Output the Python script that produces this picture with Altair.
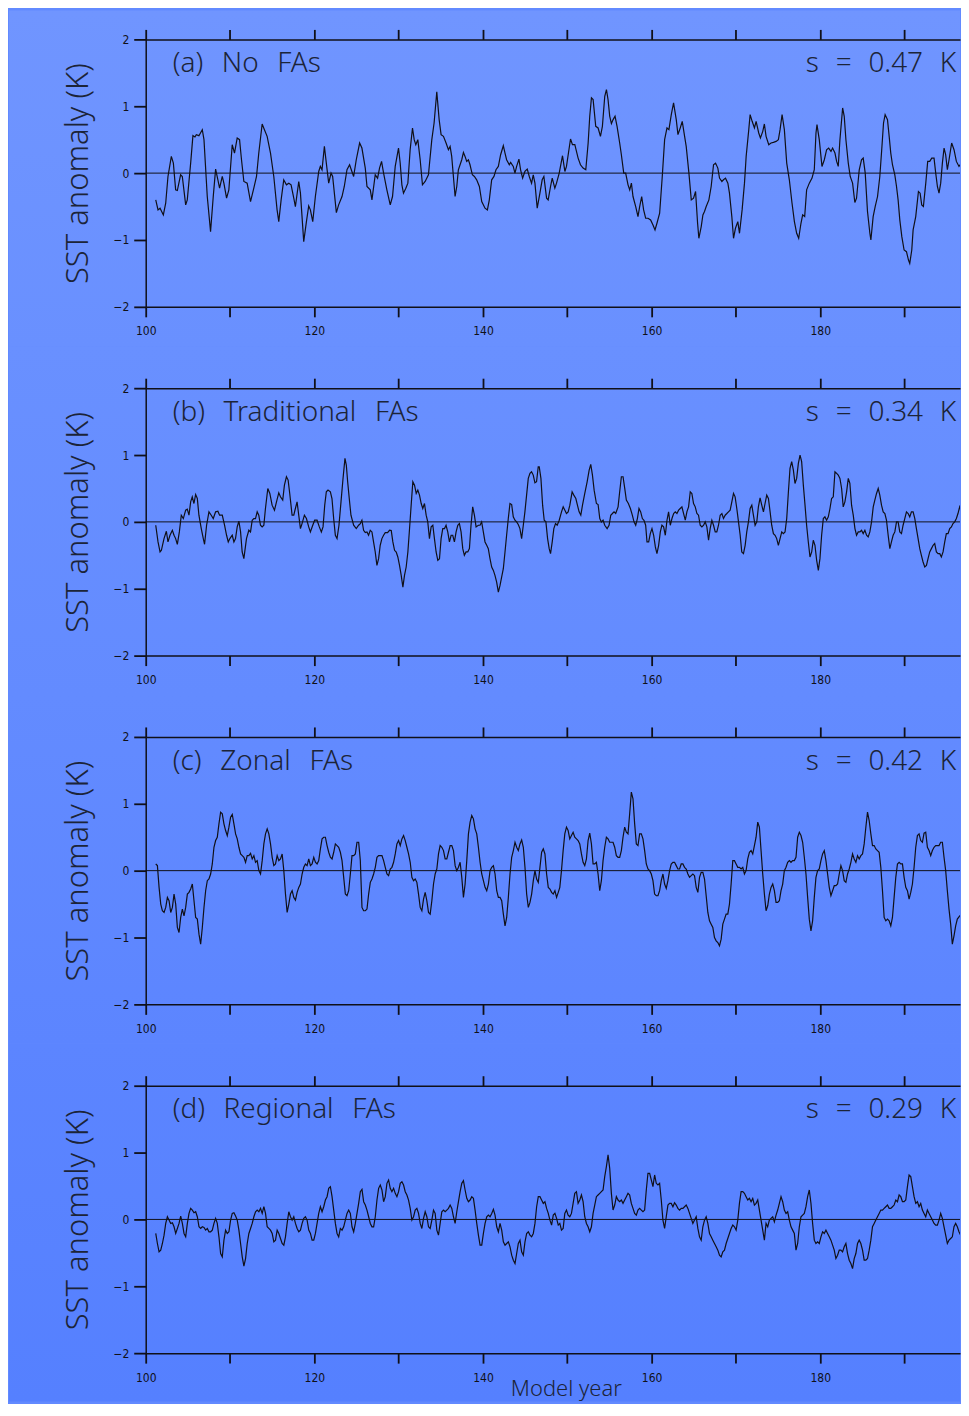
import altair as alt
import pandas as pd

# ---------------- data ----------------
# (year, SST anomaly K) turning points, panel (a) No FAs
A_POINTS = [
    (101.19, -0.40), (101.46, -0.55), (101.70, -0.525), (102.09, -0.625), (102.37, -0.45), (102.64, -0.05),
    (103.04, 0.25), (103.28, 0.15), (103.55, -0.25), (103.75, -0.26), (104.14, -0.025), (104.34, -0.05),
    (104.74, -0.475), (104.93, -0.40), (105.33, 0.15), (105.60, 0.56), (105.84, 0.54), (106.00, 0.575),
    (106.31, 0.56), (106.71, 0.65), (106.91, 0.50), (107.30, -0.35), (107.69, -0.875), (108.01, -0.35),
    (108.29, 0.06), (108.56, -0.10), (108.76, -0.225), (109.08, -0.05), (109.27, -0.15), (109.59, -0.375),
    (109.86, -0.25), (110.26, 0.425), (110.53, 0.30), (110.85, 0.525), (111.13, 0.50), (111.36, 0.20),
    (111.64, -0.125), (112.03, -0.15), (112.43, -0.425), (112.82, -0.225), (113.14, -0.05), (113.41, 0.30),
    (113.81, 0.735), (114.08, 0.65), (114.40, 0.55), (114.80, 0.30), (115.19, -0.05), (115.58, -0.55),
    (115.78, -0.725), (116.06, -0.40), (116.37, -0.10), (116.69, -0.175), (116.97, -0.15), (117.24, -0.175),
    (117.56, -0.375), (117.75, -0.50), (118.15, -0.125), (118.35, -0.30), (118.74, -1.025), (119.06, -0.725),
    (119.33, -0.49), (119.53, -0.55), (119.81, -0.725), (120.12, -0.35), (120.52, 0.025), (120.71, 0.10),
    (120.91, 0.05), (121.19, 0.40), (121.42, 0.15), (121.70, -0.15), (121.98, 0.0), (122.17, -0.05),
    (122.61, -0.59), (122.88, -0.475), (123.28, -0.35), (123.55, -0.20), (123.87, 0.05), (124.18, 0.125),
    (124.38, 0.05), (124.66, -0.05), (124.97, 0.20), (125.37, 0.45), (125.64, 0.375), (126.04, 0.075),
    (126.24, -0.20), (126.63, -0.25), (126.83, -0.40), (127.22, -0.025), (127.50, -0.075), (127.73, 0.075),
    (127.97, 0.175), (128.21, 0.0), (128.60, -0.25), (129.00, -0.475), (129.27, -0.35), (129.59, 0.10),
    (129.98, 0.375), (130.18, 0.15), (130.38, -0.175), (130.57, -0.30), (130.85, -0.225), (131.09, -0.15),
    (131.36, 0.35), (131.64, 0.675), (131.84, 0.50), (132.03, 0.425), (132.27, 0.50), (132.55, 0.20),
    (132.82, -0.175), (133.14, -0.125), (133.53, -0.025), (133.93, 0.50), (134.20, 0.75), (134.52, 1.215),
    (134.80, 0.80), (135.03, 0.575), (135.31, 0.55), (135.62, 0.45), (135.90, 0.35), (136.10, 0.40),
    (136.29, 0.25), (136.69, -0.35), (136.89, -0.20), (137.08, 0.05), (137.48, 0.20), (137.68, 0.31),
    (137.87, 0.25), (138.07, 0.175), (138.27, 0.20), (138.46, 0.125), (138.74, -0.025), (138.98, -0.05),
    (139.25, -0.10), (139.57, -0.20), (139.85, -0.425), (140.24, -0.525), (140.52, -0.55), (140.75, -0.40),
    (141.03, -0.10), (141.30, -0.05), (141.54, 0.05), (141.82, 0.10), (142.09, 0.275), (142.41, 0.41),
    (142.61, 0.30), (142.80, 0.20), (143.12, 0.125), (143.28, 0.16), (143.59, 0.10), (143.79, 0.0),
    (143.99, 0.10), (144.26, 0.21), (144.46, 0.05), (144.70, -0.075), (144.97, 0.025), (145.25, 0.06),
    (145.49, -0.05), (145.76, -0.15), (145.96, -0.025), (146.16, -0.15), (146.43, -0.525), (146.75, -0.30),
    (147.02, -0.10), (147.22, -0.05), (147.54, -0.375), (147.73, -0.40), (148.01, -0.20), (148.21, -0.075),
    (148.52, -0.225), (148.72, -0.15), (149.04, 0.0),
    (149.11, 0.05), (149.43, 0.26), (149.71, 0.025), (149.90, 0.10), (150.38, 0.51), (150.61, 0.425),
    (150.89, 0.425), (151.28, 0.225), (151.56, 0.125), (151.87, 0.075), (152.19, 0.05), (152.47, 0.45),
    (152.66, 0.85), (152.86, 1.125), (153.06, 1.10), (153.37, 0.70), (153.65, 0.675), (153.93, 0.55),
    (154.16, 0.70), (154.44, 1.15), (154.64, 1.25), (154.83, 1.10), (155.03, 0.85), (155.23, 0.74),
    (155.43, 0.80), (155.66, 0.85), (155.90, 0.70), (156.21, 0.45), (156.41, 0.275), (156.69, 0.0),
    (156.92, 0.0), (157.20, -0.175), (157.40, -0.25), (157.60, -0.15), (157.79, -0.35), (158.11, -0.50),
    (158.38, -0.65), (158.58, -0.50), (158.82, -0.35), (159.05, -0.55), (159.29, -0.675), (159.57, -0.675),
    (159.88, -0.70), (160.16, -0.775), (160.40, -0.85), (160.63, -0.75), (160.95, -0.60), (161.26, -0.05),
    (161.54, 0.50), (161.82, 0.675), (162.05, 0.65), (162.33, 0.875), (162.60, 1.05), (162.92, 0.80),
    (163.12, 0.575), (163.39, 0.675), (163.63, 0.775), (163.91, 0.55), (164.10, 0.40), (164.42, 0.0),
    (164.70, -0.40), (164.97, -0.375), (165.21, -0.275), (165.45, -0.75), (165.60, -0.975), (165.88, -0.80),
    (166.08, -0.625), (166.27, -0.575), (166.47, -0.50), (166.79, -0.40), (167.06, -0.20), (167.34, 0.125),
    (167.58, 0.15), (167.85, 0.075), (168.05, -0.075), (168.33, -0.125), (168.52, -0.10), (168.76, -0.075),
    (169.04, -0.15), (169.23, -0.30), (169.51, -0.65), (169.71, -0.975), (169.94, -0.825), (170.22, -0.725),
    (170.42, -0.90), (170.73, -0.55), (171.01, -0.15), (171.21, 0.25), (171.52, 0.65), (171.68, 0.875),
    (171.92, 0.775), (172.19, 0.675), (172.39, 0.775), (172.70, 0.60), (172.90, 0.525), (173.18, 0.625),
    (173.37, 0.735), (173.57, 0.55), (173.89, 0.425), (174.16, 0.45), (174.44, 0.46), (174.76, 0.475),
    (175.03, 0.50), (175.23, 0.65), (175.47, 0.875), (175.74, 0.65), (176.02, 0.15), (176.33, -0.10),
    (176.65, -0.45), (176.93, -0.725), (177.20, -0.90), (177.44, -0.975), (177.71, -0.75), (177.91, -0.625),
    (178.15, -0.65), (178.38, -0.25), (178.70, -0.15), (179.02, -0.075), (179.29, 0.05), (179.49, 0.60),
    (179.61, 0.725), (179.88, 0.50), (180.20, 0.10), (180.48, 0.20), (180.75, 0.35), (180.99, 0.375),
    (181.27, 0.325), (181.46, 0.375), (181.74, 0.30), (181.94, 0.175), (182.13, 0.10), (182.33, 0.50),
    (182.65, 0.975), (182.84, 0.85), (183.04, 0.50), (183.32, 0.15), (183.55, -0.05), (183.83, -0.15),
    (184.10, -0.44), (184.30, -0.375), (184.62, 0.05), (184.89, 0.20), (185.09, 0.225), (185.33, 0.0),
    (185.60, -0.575), (185.88, -0.90), (186.00, -1.0), (186.27, -0.65), (186.51, -0.50), (186.79, -0.35),
    (187.06, -0.05), (187.30, 0.375), (187.50, 0.75), (187.69, 0.875), (187.97, 0.80), (188.17, 0.55),
    (188.36, 0.30), (188.56, 0.125), (188.84, -0.025), (189.04, -0.20), (189.23, -0.40), (189.43, -0.70),
    (189.67, -0.95), (189.94, -1.15), (190.22, -1.175), (190.46, -1.30), (190.61, -1.35), (190.85, -1.15),
    (191.01, -0.85), (191.32, -0.65), (191.64, -0.275), (191.84, -0.30), (192.03, -0.475), (192.23, -0.50),
    (192.51, -0.15), (192.74, 0.175), (192.98, 0.175), (193.22, 0.225), (193.49, 0.225), (193.69, 0.0),
    (193.89, -0.20), (194.08, -0.30), (194.28, -0.15), (194.48, 0.15), (194.68, 0.375), (194.87, 0.275),
    (195.07, 0.05), (195.27, 0.20), (195.58, 0.45), (195.86, 0.35), (196.14, 0.175), (196.45, 0.10),
    (196.73, 0.15), (196.93, 0.025), (197.24, -0.01), (197.52, -0.015), (197.80, -0.02),
]

# panel (b) Traditional FAs
B_POINTS = [
    (101.19, -0.05), (101.46, -0.30), (101.70, -0.45), (101.86, -0.425), (102.17, -0.25), (102.45, -0.14),
    (102.64, -0.30), (102.88, -0.20), (103.16, -0.125), (103.36, -0.20), (103.55, -0.25), (103.75, -0.335),
    (103.99, -0.15), (104.22, 0.10), (104.46, 0.05), (104.74, 0.175), (104.93, 0.19), (105.13, 0.10),
    (105.33, 0.30), (105.52, 0.375), (105.72, 0.275), (105.92, 0.41), (106.12, 0.35), (106.31, 0.10),
    (106.59, -0.10), (106.83, -0.25), (106.98, -0.335), (107.22, -0.05), (107.50, 0.15), (107.77, 0.10),
    (108.01, 0.05), (108.29, 0.15), (108.56, 0.16), (108.76, 0.10), (109.08, 0.10), (109.35, -0.05),
    (109.59, -0.20), (109.79, -0.30), (109.98, -0.25), (110.26, -0.20), (110.46, -0.30), (110.65, -0.25),
    (110.85, -0.075), (111.05, 0.01), (111.25, -0.15), (111.44, -0.45), (111.64, -0.55), (111.95, -0.25),
    (112.23, -0.125), (112.43, -0.15), (112.63, 0.025), (112.82, 0.05), (113.02, 0.05), (113.22, 0.15),
    (113.41, 0.10), (113.61, -0.05), (113.81, -0.075), (114.01, -0.05), (114.20, 0.20), (114.48, 0.50),
    (114.72, 0.425), (114.99, 0.25), (115.27, 0.175), (115.51, 0.30), (115.78, 0.435), (115.98, 0.375),
    (116.25, 0.325), (116.45, 0.55), (116.69, 0.675), (116.89, 0.625), (117.08, 0.425), (117.36, 0.10),
    (117.56, 0.10), (117.75, 0.20), (117.95, 0.30), (118.15, 0.10), (118.35, -0.10), (118.54, -0.025),
    (118.82, 0.10), (119.06, 0.05), (119.33, -0.075), (119.53, -0.15), (119.81, -0.05), (120.04, 0.025),
    (120.32, 0.025), (120.59, -0.075), (120.83, -0.15), (121.03, -0.075), (121.23, 0.25), (121.42, 0.45),
    (121.62, 0.475), (121.90, 0.45), (122.09, 0.35), (122.29, 0.05), (122.49, -0.20), (122.69, -0.25),
    (122.92, -0.05), (123.16, 0.30), (123.40, 0.65), (123.63, 0.95), (123.79, 0.85), (123.95, 0.60),
    (124.14, 0.35), (124.34, 0.10), (124.66, -0.05), (124.97, -0.10), (125.25, -0.05), (125.45, -0.025),
    (125.64, 0.025), (125.84, -0.125), (126.04, -0.16), (126.24, -0.15), (126.43, -0.20), (126.63, -0.125),
    (126.83, -0.15), (127.02, -0.30), (127.22, -0.45), (127.42, -0.65), (127.62, -0.55), (127.81, -0.35),
    (128.01, -0.25), (128.21, -0.20), (128.41, -0.16), (128.68, -0.16), (128.92, -0.125), (129.12, -0.13),
    (129.31, -0.30), (129.51, -0.425), (129.71, -0.45), (129.90, -0.525), (130.10, -0.65), (130.30, -0.80),
    (130.50, -0.975), (130.69, -0.80), (130.89, -0.675), (131.09, -0.45), (131.29, -0.10), (131.48, 0.25),
    (131.68, 0.60), (131.88, 0.55), (132.08, 0.425), (132.27, 0.475), (132.47, 0.40), (132.67, 0.275),
    (132.86, 0.20), (133.06, 0.275), (133.26, 0.10), (133.45, 0.0), (133.65, -0.25), (133.85, -0.075),
    (134.05, -0.05), (134.24, -0.25), (134.44, -0.45), (134.64, -0.575), (134.84, -0.55), (135.03, -0.25),
    (135.23, -0.10), (135.43, -0.10), (135.62, -0.05), (135.82, -0.15), (136.02, -0.30), (136.22, -0.20),
    (136.41, -0.20), (136.61, -0.30), (136.81, -0.15), (137.01, -0.05), (137.20, -0.025), (137.40, -0.15),
    (137.60, -0.40), (137.79, -0.50), (137.99, -0.45), (138.19, -0.45), (138.39, -0.40), (138.58, -0.05),
    (138.78, 0.225), (138.98, 0.10), (139.18, -0.075), (139.45, -0.05), (139.65, -0.05), (139.84, 0.0),
    (140.04, -0.15), (140.24, -0.30), (140.44, -0.35), (140.63, -0.40), (140.83, -0.55), (141.03, -0.675),
    (141.23, -0.725), (141.42, -0.80), (141.62, -0.90), (141.82, -1.05), (142.02, -0.95), (142.21, -0.825),
    (142.41, -0.70), (142.61, -0.45), (142.80, -0.20), (143.00, 0.05), (143.20, 0.275), (143.40, 0.26),
    (143.59, 0.075), (143.79, 0.025), (143.99, 0.0), (144.18, -0.04), (144.38, -0.10), (144.58, -0.25),
    (144.78, -0.05), (144.97, 0.15), (145.17, 0.40), (145.37, 0.65), (145.57, 0.725), (145.76, 0.75),
    (145.96, 0.70), (146.16, 0.585), (146.35, 0.60), (146.55, 0.825), (146.67, 0.825), (146.87, 0.65),
    (147.07, 0.25), (147.26, 0.025), (147.46, 0.0), (147.66, -0.25), (147.85, -0.40), (148.01, -0.475),
    (148.21, -0.30), (148.40, -0.10), (148.60, -0.025), (148.80, -0.05), (149.04, 0.025),
    (149.31, 0.15), (149.51, 0.225), (149.71, 0.175), (149.90, 0.125), (150.10, 0.15), (150.30, 0.25),
    (150.57, 0.45), (150.77, 0.40), (151.01, 0.35), (151.20, 0.25), (151.40, 0.15), (151.60, 0.10),
    (151.80, 0.25), (152.07, 0.425), (152.35, 0.60), (152.59, 0.775), (152.78, 0.86), (152.98, 0.70),
    (153.18, 0.475), (153.45, 0.275), (153.65, 0.26), (153.85, 0.05), (154.04, 0.0), (154.24, 0.025),
    (154.44, -0.05), (154.72, -0.10), (154.95, -0.05), (155.15, 0.10), (155.35, 0.125), (155.54, 0.15),
    (155.74, 0.125), (156.02, 0.225), (156.21, 0.45), (156.41, 0.675), (156.61, 0.675), (156.81, 0.50),
    (157.00, 0.325), (157.24, 0.275), (157.48, 0.20), (157.71, 0.10), (157.91, 0.0), (158.11, -0.05),
    (158.31, 0.05), (158.50, 0.20), (158.70, 0.15), (158.90, 0.05), (159.09, 0.025), (159.29, -0.05),
    (159.45, -0.30), (159.65, -0.30), (159.84, -0.175), (160.04, -0.10), (160.24, -0.20), (160.44, -0.375),
    (160.63, -0.475), (160.83, -0.35), (161.03, -0.15), (161.22, -0.05), (161.42, -0.075), (161.62, -0.20),
    (161.82, 0.025), (162.01, 0.15), (162.21, -0.05), (162.41, 0.05), (162.61, 0.125), (162.80, 0.15),
    (163.00, 0.125), (163.20, 0.175), (163.39, 0.20), (163.59, 0.225), (163.79, 0.125), (163.99, 0.025),
    (164.18, 0.15), (164.38, 0.225), (164.58, 0.45), (164.77, 0.425), (164.97, 0.275), (165.17, 0.225),
    (165.37, 0.125), (165.56, 0.10), (165.76, -0.05), (165.96, -0.075), (166.16, -0.05), (166.35, 0.0),
    (166.55, -0.075), (166.75, -0.275), (166.94, -0.10), (167.14, 0.025), (167.34, -0.05), (167.54, -0.15),
    (167.73, -0.15), (167.93, -0.05), (168.13, 0.10), (168.33, 0.125), (168.52, 0.05), (168.72, 0.10),
    (168.92, 0.125), (169.11, 0.15), (169.31, 0.175), (169.51, 0.30), (169.71, 0.425), (169.90, 0.375),
    (170.10, 0.20), (170.30, 0.0), (170.50, -0.20), (170.69, -0.45), (170.89, -0.475), (171.09, -0.35),
    (171.28, -0.15), (171.48, 0.0), (171.68, 0.20), (171.88, 0.25), (172.07, 0.10), (172.27, -0.05),
    (172.47, 0.0), (172.66, 0.225), (172.86, 0.36), (173.06, 0.25), (173.26, 0.15), (173.45, 0.275),
    (173.65, 0.40), (173.85, 0.35), (174.05, 0.15), (174.24, -0.05), (174.44, -0.175), (174.64, -0.20),
    (174.83, -0.25), (175.03, -0.35), (175.23, -0.25), (175.43, -0.15), (175.62, -0.175), (175.82, -0.15),
    (176.02, 0.05), (176.22, 0.45), (176.41, 0.80), (176.61, 0.90), (176.81, 0.775), (177.00, 0.575),
    (177.20, 0.65), (177.40, 0.875), (177.60, 1.0), (177.79, 0.90), (177.99, 0.55), (178.19, 0.25),
    (178.38, -0.05), (178.58, -0.30), (178.78, -0.525), (178.98, -0.45), (179.17, -0.275), (179.37, -0.35),
    (179.57, -0.575), (179.77, -0.725), (179.96, -0.55), (180.16, -0.20), (180.36, 0.05), (180.55, 0.075),
    (180.75, 0.025), (180.95, 0.075), (181.15, 0.20), (181.34, 0.35), (181.54, 0.375), (181.74, 0.75),
    (181.94, 0.725), (182.13, 0.70), (182.33, 0.65), (182.53, 0.50), (182.72, 0.225), (182.92, 0.30),
    (183.12, 0.45), (183.32, 0.65), (183.51, 0.575), (183.71, 0.25), (183.91, 0.10), (184.11, -0.10),
    (184.30, -0.20), (184.50, -0.15), (184.70, -0.15), (184.89, -0.125), (185.09, -0.175), (185.29, -0.125),
    (185.49, -0.20), (185.68, -0.225), (185.88, -0.15), (186.08, 0.0), (186.28, 0.225), (186.47, 0.325),
    (186.67, 0.425), (186.87, 0.50), (187.06, 0.40), (187.26, 0.25), (187.46, 0.15), (187.66, 0.125),
    (187.85, 0.025), (188.05, -0.20), (188.25, -0.40), (188.44, -0.30), (188.64, -0.20), (188.84, -0.15),
    (189.04, 0.0), (189.23, 0.0), (189.43, -0.15), (189.63, -0.175), (189.82, -0.05), (190.02, 0.05),
    (190.22, 0.15), (190.42, 0.125), (190.61, 0.075), (190.81, 0.15), (191.01, 0.15), (191.21, 0.05),
    (191.40, -0.10), (191.60, -0.25), (191.80, -0.40), (191.99, -0.50), (192.19, -0.60), (192.39, -0.675),
    (192.59, -0.65), (192.78, -0.55), (192.98, -0.45), (193.18, -0.40), (193.38, -0.35), (193.57, -0.325),
    (193.77, -0.45), (193.97, -0.475), (194.17, -0.475), (194.36, -0.525), (194.56, -0.45), (194.76, -0.30),
    (194.95, -0.175), (195.15, -0.175), (195.35, -0.10), (195.55, -0.075), (195.74, -0.025), (195.94, 0.0),
    (196.14, 0.05), (196.33, 0.125), (196.53, 0.225), (196.73, 0.15), (196.93, 0.0), (197.12, -0.025),
    (197.32, -0.075), (197.52, -0.15), (197.80, -0.25),
]

# panels (c) and (d) were read on a regular grid of 0.19725 yr
GRID_STEP = 0.19725
LEFT_START = 101.19    # first reading of the left half
RIGHT_START = 149.11   # first reading of the right half

C_LEFT = [
    0.10, 0.075, -0.25, -0.50, -0.60, -0.625, -0.55, -0.40, -0.45, -0.625,
    -0.55, -0.35, -0.50, -0.85, -0.925, -0.70, -0.575, -0.675, -0.55, -0.35,
    -0.325, -0.275, -0.20, -0.45, -0.70, -0.725, -0.95, -1.10, -0.85, -0.55,
    -0.30, -0.15, -0.125, -0.05, 0.10, 0.35, 0.45, 0.50, 0.70, 0.875,
    0.85, 0.70, 0.60, 0.525, 0.65, 0.80, 0.84, 0.70, 0.55, 0.475,
    0.35, 0.25, 0.225, 0.20, 0.125, 0.225, 0.225, 0.26, 0.175, 0.225,
    0.125, 0.15, 0.0, -0.05, 0.15, 0.40, 0.55, 0.625, 0.55, 0.40,
    0.20, 0.075, 0.10, 0.225, 0.15, 0.175, 0.25, 0.0, -0.35, -0.625,
    -0.50, -0.35, -0.30, -0.40, -0.44, -0.325, -0.25, -0.20, -0.05, 0.05,
    0.10, 0.075, 0.175, 0.075, 0.10, 0.20, 0.125, 0.10, 0.15, 0.325,
    0.475, 0.50, 0.50, 0.375, 0.275, 0.20, 0.175, 0.275, 0.40, 0.375,
    0.35, 0.275, 0.15, -0.10, -0.35, -0.375, -0.30, -0.05, 0.225, 0.225,
    0.25, 0.425, 0.425, 0.15, -0.55, -0.60, -0.60, -0.575, -0.35, -0.175,
    -0.125, -0.05, 0.05, 0.20, 0.225, 0.225, 0.225, 0.15, 0.05, -0.05,
    -0.075, 0.025, 0.05, 0.125, 0.25, 0.40, 0.45, 0.375, 0.475, 0.525,
    0.45, 0.35, 0.25, 0.125, -0.10, -0.15, -0.125, -0.175, -0.35, -0.55,
    -0.60, -0.425, -0.325, -0.45, -0.625, -0.65, -0.45, -0.20, -0.05, 0.025,
    0.25, 0.375, 0.35, 0.30, 0.175, 0.175, 0.275, 0.375, 0.375, 0.30,
    0.075, 0.0, 0.05, 0.125, -0.10, -0.40, -0.20, 0.15, 0.55, 0.725,
    0.825, 0.775, 0.625, 0.55, 0.35, 0.125, -0.05, -0.15, -0.25, -0.30,
    -0.20, 0.0, 0.05, 0.075, -0.05, -0.30, -0.40, -0.40, -0.45, -0.65,
    -0.825, -0.70, -0.40, -0.05, 0.20, 0.30, 0.425, 0.35, 0.30, 0.40,
    0.46, 0.35, 0.05, -0.35, -0.55, -0.475, -0.35, -0.15, 0.0, -0.125,
    -0.175, 0.05, 0.275, 0.325, 0.25, -0.05, -0.25, -0.275, -0.325, -0.35,
    -0.30, -0.40, -0.325,
]
C_RIGHT = [
    -0.25, 0.0, 0.30, 0.55, 0.65, 0.60, 0.475, 0.525, 0.575, 0.50,
    0.475, 0.45, 0.40, 0.25, 0.125, 0.075, 0.175, 0.45, 0.56, 0.40,
    0.10, 0.10, 0.125, -0.05, -0.30, -0.15, 0.15, 0.35, 0.50, 0.475,
    0.425, 0.425, 0.425, 0.35, 0.225, 0.20, 0.20, 0.30, 0.50, 0.65,
    0.575, 0.55, 0.85, 1.175, 1.075, 0.70, 0.40, 0.375, 0.55, 0.55,
    0.475, 0.30, 0.10, 0.025, 0.0, -0.05, -0.15, -0.35, -0.375, -0.375,
    -0.30, -0.15, -0.05, -0.20, -0.265, -0.15, 0.0, 0.10, 0.125, 0.125,
    0.075, 0.025, 0.025, 0.10, 0.10, 0.05, 0.025, -0.05, -0.10, -0.075,
    -0.05, -0.075, -0.25, -0.325, -0.10, -0.025, -0.025, -0.125, -0.375, -0.625,
    -0.75, -0.80, -0.85, -1.0, -1.05, -1.075, -1.125, -1.025, -0.80, -0.725,
    -0.65, -0.65, -0.50, -0.20, 0.15, 0.15, 0.10, 0.05, 0.05, 0.025,
    0.05, -0.05, 0.0, 0.175, 0.275, 0.30, 0.25, 0.375, 0.50, 0.725,
    0.65, 0.30, -0.05, -0.35, -0.60, -0.525, -0.35, -0.25, -0.20, -0.30,
    -0.475, -0.475, -0.45, -0.30, -0.20, 0.0, 0.05, 0.125, 0.15, 0.125,
    0.15, 0.15, 0.20, 0.50, 0.575, 0.525, 0.425, 0.20, -0.05, -0.40,
    -0.725, -0.90, -0.75, -0.40, -0.10, 0.0, 0.025, 0.15, 0.25, 0.30,
    0.15, -0.05, -0.25, -0.375, -0.30, -0.225, -0.225, -0.20, -0.05, 0.075,
    0.0, -0.15, -0.175, -0.05, 0.025, 0.125, 0.25, 0.175, 0.125, 0.225,
    0.175, 0.225, 0.25, 0.40, 0.65, 0.875, 0.75, 0.55, 0.375, 0.375,
    0.325, 0.30, 0.275, 0.05, -0.30, -0.70, -0.75, -0.725, -0.75, -0.825,
    -0.70, -0.40, -0.10, 0.10, 0.125, 0.10, 0.10, -0.10, -0.25, -0.30,
    -0.425, -0.325, -0.20, 0.05, 0.35, 0.525, 0.55, 0.45, 0.425, 0.56,
    0.575, 0.35, 0.30, 0.225, 0.30, 0.35, 0.375, 0.375, 0.375, 0.425,
    0.425, 0.20, 0.0, -0.30, -0.575, -0.80, -1.10, -0.975, -0.825, -0.725,
    -0.69, -0.66, -0.575, -0.45, -0.275, -0.05,
]
D_LEFT = [
    -0.21, -0.36, -0.485, -0.46, -0.36, -0.235, -0.06, 0.04, -0.01, -0.06,
    -0.05, -0.11, -0.21, -0.135, -0.06, 0.05, -0.06, -0.21, -0.26, -0.06,
    0.09, 0.165, 0.14, 0.10, 0.115, 0.04, -0.11, -0.135, -0.11, -0.12,
    -0.16, -0.135, -0.185, -0.185, -0.16, -0.06, 0.015, -0.06, -0.26, -0.51,
    -0.56, -0.31, -0.16, -0.21, -0.185, -0.01, 0.09, 0.10, 0.05, -0.01,
    -0.16, -0.36, -0.56, -0.70, -0.585, -0.36, -0.21, -0.135, -0.06, 0.04,
    0.115, 0.14, 0.115, 0.165, 0.09, 0.19, 0.09, -0.11, -0.135, -0.16,
    -0.21, -0.335, -0.31, -0.16, -0.21, -0.285, -0.36, -0.385, -0.26, -0.06,
    0.115, 0.04, -0.01, 0.04, -0.06, -0.135, -0.185, -0.16, -0.06, 0.015,
    0.04, -0.01, -0.16, -0.21, -0.31, -0.31, -0.21, -0.06, 0.09, 0.19,
    0.115, 0.19, 0.29, 0.34, 0.465, 0.49, 0.34, 0.14, -0.06, -0.21,
    -0.26, -0.135, -0.16, -0.11, -0.01, 0.09, 0.14, 0.09, -0.11, -0.185,
    -0.06, 0.09, 0.24, 0.415, 0.45, 0.265, 0.215, 0.14, 0.04, -0.06,
    -0.11, -0.11, 0.04, 0.29, 0.465, 0.515, 0.44, 0.265, 0.34, 0.54,
    0.59, 0.465, 0.415, 0.465, 0.39, 0.34, 0.415, 0.54, 0.565, 0.515,
    0.415, 0.365, 0.29, 0.165, -0.01, 0.04, 0.14, 0.165, 0.09, -0.06,
    -0.135, 0.015, 0.115, 0.04, -0.11, -0.135, -0.01, 0.14, 0.09, -0.16,
    -0.235, -0.06, 0.115, 0.14, 0.115, 0.14, 0.165, 0.215, 0.165, 0.04,
    -0.06, 0.115, 0.265, 0.415, 0.54, 0.58, 0.44, 0.315, 0.265, 0.29,
    0.34, 0.315, 0.14, -0.06, -0.235, -0.385, -0.385, -0.21, -0.06, 0.04,
    0.065, 0.04, 0.09, 0.15, 0.065, -0.11, -0.185, -0.06, -0.16, -0.335,
    -0.385, -0.36, -0.335, -0.41, -0.535, -0.61, -0.66, -0.51, -0.36, -0.31,
    -0.485, -0.535, -0.335, -0.21, -0.185, -0.235, -0.26, -0.21, -0.06, 0.19,
    0.34, 0.34, 0.29, 0.24, 0.265, 0.165, 0.09, -0.01, -0.085, 0.065,
    0.09, 0.015, -0.085,
]
D_RIGHT = [
    -0.06, -0.16, -0.135, 0.09, 0.14, 0.065, 0.04, 0.09, 0.24, 0.39,
    0.415, 0.24, 0.29, 0.365, 0.265, 0.04, -0.06, -0.11, -0.185, -0.11,
    0.09, 0.215, 0.34, 0.365, 0.39, 0.415, 0.44, 0.64, 0.79, 0.965,
    0.765, 0.39, 0.14, 0.215, 0.34, 0.29, 0.265, 0.29, 0.24, 0.29,
    0.34, 0.39, 0.365, 0.24, 0.165, 0.09, 0.065, 0.14, 0.165, 0.14,
    0.115, 0.14, 0.44, 0.69, 0.69, 0.59, 0.49, 0.665, 0.54, 0.515,
    0.54, 0.29, -0.01, -0.135, 0.04, 0.215, 0.24, 0.24, 0.19, 0.25,
    0.215, 0.165, 0.14, 0.165, 0.165, 0.19, 0.215, 0.165, 0.09, 0.015,
    -0.06, -0.01, 0.04, -0.135, -0.26, -0.31, -0.11, -0.01, 0.04, -0.06,
    -0.21, -0.26, -0.31, -0.36, -0.41, -0.46, -0.535, -0.56, -0.485, -0.46,
    -0.36, -0.285, -0.21, -0.135, -0.085, -0.11, -0.16, -0.01, 0.24, 0.415,
    0.415, 0.39, 0.34, 0.29, 0.315, 0.265, 0.315, 0.215, 0.24, 0.29,
    0.14, -0.01, -0.16, -0.31, -0.06, -0.11, -0.01, 0.015, 0.04, -0.035,
    0.065, 0.14, 0.24, 0.34, 0.265, 0.14, 0.09, 0.115, -0.01, -0.11,
    -0.16, -0.21, -0.46, -0.36, -0.11, 0.04, 0.065, 0.09, 0.19, 0.34,
    0.44, 0.24, -0.06, -0.31, -0.36, -0.335, -0.36, -0.26, -0.185, -0.21,
    -0.16, -0.21, -0.26, -0.31, -0.385, -0.46, -0.585, -0.535, -0.46, -0.46,
    -0.485, -0.41, -0.36, -0.51, -0.61, -0.66, -0.735, -0.585, -0.51, -0.36,
    -0.31, -0.36, -0.46, -0.61, -0.61, -0.585, -0.46, -0.31, -0.11, -0.06,
    -0.01, 0.04, 0.09, 0.14, 0.14, 0.165, 0.19, 0.215, 0.165, 0.165,
    0.19, 0.215, 0.29, 0.265, 0.365, 0.34, 0.265, 0.265, 0.29, 0.49,
    0.665, 0.64, 0.49, 0.34, 0.24, 0.265, 0.19, 0.24, 0.14, 0.09,
    0.04, 0.14, 0.09, 0.04, -0.01, -0.06, -0.085, -0.085, -0.01, 0.09,
    0.015, -0.11, -0.235, -0.36, -0.31, -0.285, -0.26, -0.11, -0.06, -0.11,
    -0.185, -0.235, -0.235, -0.26, -0.335, -0.41,
]

PANEL_LABELS = ["(a)\u2002\u2009No\u2002\u2009FAs", "(b)\u2002\u2009Traditional\u2002\u2009FAs",
                "(c)\u2002\u2009Zonal\u2002\u2009FAs", "(d)\u2002\u2009Regional\u2002\u2009FAs"]
SIGMA_LABELS = ["s\u2002\u200a=\u2002\u200a0.47\u2002\u200aK", "s\u2002\u200a=\u2002\u200a0.34\u2002\u200aK",
                "s\u2002\u200a=\u2002\u200a0.42\u2002\u200aK", "s\u2002\u200a=\u2002\u200a0.29\u2002\u200aK"]
X_TICKS = [100, 110, 120, 130, 140, 150, 160, 170, 180, 190]
Y_TICKS = [-2, -1.5, -1, -0.5, 0, 0.5, 1, 1.5, 2]
X_DOMAIN = [100, 196.57]
Y_DOMAIN = [-2, 2]
LABEL_AT = (103.2, 1.51)
SIGMA_AT = (196.13, 1.51)

# ---------------- style / layout ----------------
PLOT_W, PLOT_H = 816, 268
GAP = 81.5
LEFT, TOP = 137, 32
V_INSET = 3        # the background rects' vertical bounds reach 3 px past their edges
SVG_H = 1400
PAGE_H = 1416
BG_TOP, BG_BOTTOM = (0x70, 0x95, 0xFF), (0x55, 0x80, 0xFF)
INK = "#101018"
TEXT = "#1c2438"
TICK_FONT = "'Liberation Sans Narrow', 'DejaVu Sans Condensed', 'Liberation Sans', sans-serif"
BIG_FONT = "Noto Sans"


def grid_series(start, values):
    return [(round(start + GRID_STEP * i, 4), v) for i, v in enumerate(values)]


def bg_color(page_y):
    t = max(0.0, min(1.0, page_y / PAGE_H))
    return "#%02x%02x%02x" % tuple(round(a + (b - a) * t) for a, b in zip(BG_TOP, BG_BOTTOM))


SERIES = [
    A_POINTS,
    B_POINTS,
    grid_series(LEFT_START, C_LEFT) + grid_series(RIGHT_START, C_RIGHT),
    grid_series(LEFT_START, D_LEFT) + grid_series(RIGHT_START, D_RIGHT),
]

XS = alt.Scale(domain=X_DOMAIN, nice=False, zero=False)
YS = alt.Scale(domain=Y_DOMAIN, nice=False, zero=False)

LEFT_AXIS = alt.Axis(
    values=Y_TICKS, format="d", zindex=1,
    labelExpr="datum.value % 1 == 0 ? datum.label : ''",
    tickSize=12, labelPadding=5, labelFlush=False, labelOverlap=False,
    title="SST anomaly (K)", titleX=-58, titleY=PLOT_H / 2, titleAngle=270,
    titleAlign="center", titleBaseline="alphabetic", titleFontSize=31,
)
TOP_AXIS = alt.Axis(orient="top", values=X_TICKS, labels=False, tickSize=10, title=None, zindex=1)


def panel(i):
    last = i == 3
    df = pd.DataFrame(SERIES[i], columns=["year", "value"])
    top_svg = TOP + i * (PLOT_H + GAP)
    y0 = (-TOP + V_INSET) if i == 0 else -42
    y1 = (PLOT_H + GAP - 42) if not last else (SVG_H - V_INSET - top_svg)
    grad = alt.LinearGradient(
        gradient="linear",
        stops=[alt.GradientStop(color=bg_color(top_svg + y0 + 8), offset=0),
               alt.GradientStop(color=bg_color(top_svg + y1 + 8), offset=1)],
        x1=0, x2=0, y1=0, y2=1,
    )
    bg = alt.Chart(pd.DataFrame({"k": [0]})).mark_rect(fill=grad).encode(
        x=alt.value(-LEFT), x2=alt.value(PLOT_W), y=alt.value(y0), y2=alt.value(y1)
    )
    y_enc = alt.Y("value:Q", scale=YS, axis=LEFT_AXIS)
    zero = alt.Chart(pd.DataFrame({"value": [0]})).mark_rule(color=INK, strokeWidth=1).encode(y=y_enc)
    bottom_axis = alt.Axis(
        orient="bottom", values=X_TICKS, format="d", zindex=1,
        labelExpr="datum.value % 20 == 0 ? datum.label : ''",
        tickSize=10, labelPadding=9, labelFlush=False, labelOverlap=False,
        title="Model year" if last else None,
        titleX=421, titleY=25, titleBaseline="top", titleFontSize=22,
    )
    line = alt.Chart(df).mark_line(color=INK, strokeWidth=1.2, clip=True).encode(
        x=alt.X("year:Q", scale=XS, axis=bottom_axis),
        y=y_enc,
    )
    label = alt.Chart(pd.DataFrame({"year": [LABEL_AT[0]], "value": [LABEL_AT[1]]})).mark_text(
        text=PANEL_LABELS[i], align="left", baseline="alphabetic",
        font=BIG_FONT, fontSize=28, fontWeight=300, color=TEXT,
    ).encode(
        x=alt.X("year:Q", scale=XS, axis=TOP_AXIS),
        y=y_enc,
    )
    sigma = alt.Chart(pd.DataFrame({"year": [SIGMA_AT[0]], "value": [SIGMA_AT[1]]})).mark_text(
        text=SIGMA_LABELS[i], align="right", baseline="alphabetic",
        font=BIG_FONT, fontSize=28, fontWeight=300, color=TEXT,
    ).encode(
        x=alt.X("year:Q", scale=XS, axis=None),
        y=y_enc,
    )
    return alt.layer(bg, zero, line, label, sigma).resolve_axis(x="independent").properties(
        width=PLOT_W, height=PLOT_H
    )


chart = alt.vconcat(*[panel(i) for i in range(4)], spacing=GAP, bounds="flush").properties(
    padding={"left": 0, "top": 0, "right": 0, "bottom": 0}
).configure(
    background=bg_color(PAGE_H / 2)
).configure_view(
    stroke="transparent"
).configure_axis(
    grid=False,
    domainColor=INK, domainWidth=1.5, tickColor=INK, tickWidth=1.8,
    labelFont=TICK_FONT, labelFontSize=12, labelColor=INK,
    titleFont=BIG_FONT, titleFontWeight=300, titleColor=TEXT,
)

chart.save("out.html", embed_options={"renderer": "svg", "actions": False})
